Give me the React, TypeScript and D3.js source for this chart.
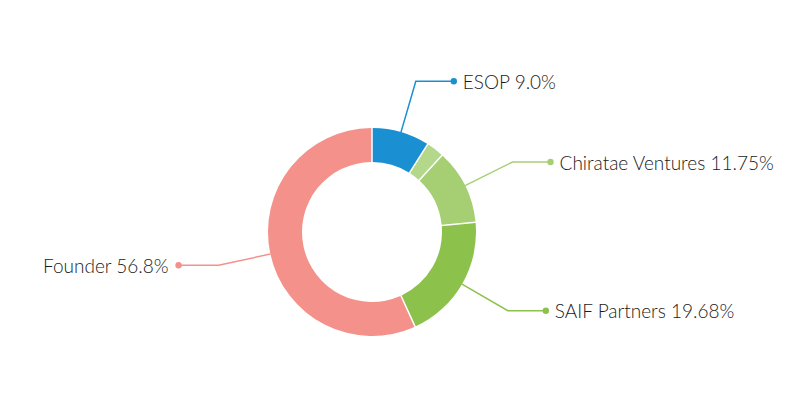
import React from "react";
import * as d3 from "d3";

const labels = ["ESOP", "Other", "Chiratae Ventures", "SAIF Partners", "Founder"];
const values = [9.0, 2.77, 11.75, 19.68, 56.8];
const valueText = ["9.0", "", "11.75", "19.68", "56.8"];
const shown = [true, false, true, true, true];
const colors = ["#1a8fd1", "#b3d88c", "#a6cf74", "#8cc24c", "#f3918a"];

export default function App() {
  const W = 800, H = 395;
  const cx = 372, cy = 232;
  const R = 104, r = 70;
  const pie = d3.pie<number>().sort(null).value((d) => d)(values);
  const arc = d3.arc<d3.PieArcDatum<number>>().innerRadius(r).outerRadius(R).padAngle(0.012);
  const pt = (a: number, rad: number) => [rad * Math.sin(a), -rad * Math.cos(a)];
  return (
    <svg width={W} height={H} style={{ position: "absolute", left: 0, top: 0, background: "#fff" }}>
      <g transform={`translate(${cx},${cy})`}>
        {pie.map((p, i) => (
          <path key={i} d={arc(p) || ""} fill={colors[i]} />
        ))}
        {pie.map((p, i) => {
          if (!shown[i]) return null;
          const m = (p.startAngle + p.endAngle) / 2;
          const [x0, y0] = pt(m, R);
          const [x1, y1] = pt(m, 157);
          const right = Math.sin(m) >= 0;
          const x2 = x1 + (right ? 38 : -40);
          return (
            <g key={"l" + i}>
              <polyline points={`${x0},${y0} ${x1},${y1} ${x2},${y1}`} fill="none" stroke={colors[i]} strokeWidth={1.5} />
              <circle cx={x2} cy={y1} r={3.2} fill={colors[i]} />
              <text x={x2 + (right ? 9 : -10)} y={y1} dy="0.4em" textAnchor={right ? "start" : "end"}
                fontFamily="Lato, sans-serif" fontWeight={300} fontSize={19} fill="#1a1a1a">
                {`${labels[i]} ${valueText[i]}%`}
              </text>
            </g>
          );
        })}
      </g>
    </svg>
  );
}
